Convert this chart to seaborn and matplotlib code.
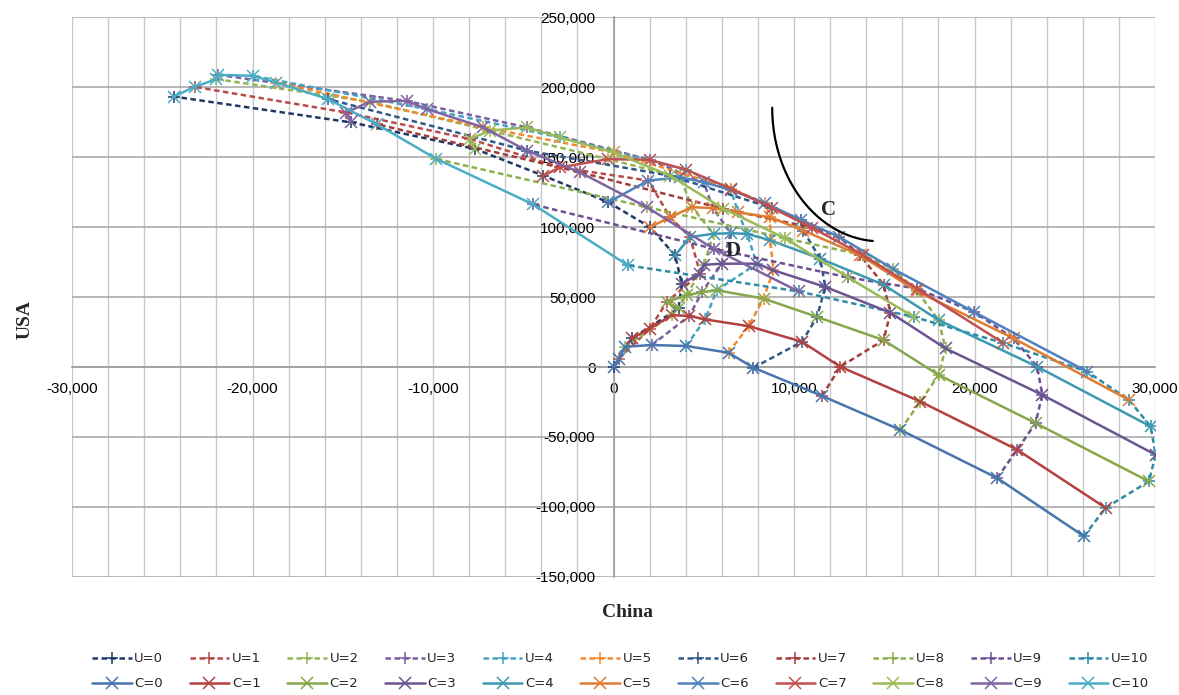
import matplotlib
matplotlib.use("Agg")
import matplotlib.pyplot as plt
import seaborn as sns
import pandas as pd
import numpy as np
from matplotlib.ticker import FuncFormatter, MultipleLocator

# grid of outcomes: one row per C level, columns are U = 0..10
levels = list(range(11))
china = [
    [0, 300, 640, 2120, 4020, 6370, 7750, 11550, 15890, 21250, 26060],
    [1010, 2020, 3230, 4200, 5070, 7480, 10440, 12560, 17000, 22360, 27260],
    [3600, 2950, 4060, 4900, 5720, 8310, 11270, 14960, 18010, 23380, 29660],
    [3780, 4800, 5000, 6000, 7940, 8860, 11730, 15340, 18390, 23750, 30030],
    [3410, 4240, 5540, 6500, 7390, 8680, 11450, 14960, 18010, 23470, 29760],
    [2020, 3130, 4340, 5500, 6900, 8680, 10500, 13670, 16820, 22170, 28550],
    [-290, 1930, 3690, 5000, 6500, 8400, 10400, 12500, 15500, 19960, 26240],
    [-3890, -2970, -300, 2000, 4000, 6500, 8800, 11000, 13800, 16820, 21600],
    [-7680, -7960, -6850, -4810, -2970, 0, 3130, 6090, 9500, 13000, 16630],
    [-14520, -14800, -13500, -11470, -10360, -7220, -4810, -1860, 1840, 5540, 10250],
    [-24370, -23210, -22000, -21920, -19980, -18680, -15820, -13130, -9810, -4450, 800],
]
usa = [
    [0, 6000, 14500, 15700, 15000, 10200, -500, -20650, -44900, -79300, -120900],
    [20400, 27500, 37000, 36500, 34000, 29200, 18000, 200, -24700, -59100, -100600],
    [41800, 46500, 51300, 53500, 54800, 48900, 35800, 19200, -5700, -40100, -81700],
    [59600, 66700, 73000, 73800, 73800, 69100, 57200, 38800, 13300, -19900, -62700],
    [79800, 92800, 95200, 95500, 95200, 90500, 77400, 58800, 33500, 200, -42500],
    [99900, 107000, 114200, 113500, 110500, 107000, 97500, 79800, 54000, 20400, -23500],
    [117700, 133200, 135500, 132000, 126500, 117000, 105000, 93000, 70000, 39400, -3300],
    [136700, 142600, 148500, 148000, 141000, 127500, 113500, 99500, 80000, 56000, 17100],
    [155800, 162900, 168800, 171200, 164000, 153300, 136700, 113000, 92000, 64000, 35800],
    [174700, 181800, 189500, 190100, 184300, 171200, 154600, 139100, 114200, 84500, 54000],
    [193200, 200100, 205600, 208700, 208000, 203200, 191400, 173500, 148600, 116100, 72600],
]

u_colors = ['#1F3864', '#B84B48', '#93B553', '#7A5E9E', '#44A3BF', '#F3892C',
            '#2F5888', '#A33D3B', '#8DB04E', '#6C5091', '#2F8CA6']
c_colors = ['#4775AD', '#B2413F', '#86A84A', '#6C5493', '#3E98B2', '#E07D31',
            '#4F81BD', '#C0504D', '#9BBB59', '#8064A2', '#4BACC6']

rows = []
for c in levels:
    for u in levels:
        rows.append({"C": c, "U": u, "China": china[c][u], "USA": usa[c][u]})
df = pd.DataFrame(rows)

sns.set_theme(style="white")
plt.rcParams['font.family'] = ['Liberation Sans', 'DejaVu Sans']
serif = ['Liberation Serif', 'DejaVu Serif']

fig = plt.figure(figsize=(11.79, 6.95), dpi=100)
ax = fig.add_axes([0.0611, 0.1698, 0.9186, 0.8057])

# U lines: dashed, one per U level across C
for u in levels:
    d = df[df["U"] == u].sort_values("C")
    sns.lineplot(data=d, x="China", y="USA", sort=False, estimator=None, ax=ax,
                 color=u_colors[u], linestyle=(0, (2.2, 1.4)), lw=1.8,
                 marker='+', markersize=9, mew=1.1, mec=u_colors[u],
                 label=f"U={u}", zorder=3)

# C lines: solid, one per C level across U
for c in levels:
    d = df[df["C"] == c].sort_values("U")
    sns.lineplot(data=d, x="China", y="USA", sort=False, estimator=None, ax=ax,
                 color=c_colors[c], lw=1.8,
                 marker='x', markersize=8, mew=1.1, mec=c_colors[c],
                 label=f"C={c}", zorder=3)

ax.set_xlim(-30000, 30000)
ax.set_ylim(-150000, 250000)
ax.xaxis.set_major_locator(MultipleLocator(10000))
ax.xaxis.set_minor_locator(MultipleLocator(2000))
ax.yaxis.set_major_locator(MultipleLocator(50000))
fmt = FuncFormatter(lambda v, _: f"{v:,.0f}")
ax.xaxis.set_major_formatter(fmt)
ax.yaxis.set_major_formatter(fmt)

ax.set_axisbelow(True)
ax.grid(which='both', axis='x', color='#c8c8c8', lw=1)
ax.grid(which='major', axis='y', color='#ababab', lw=1.2)

for s in ['top', 'right']:
    ax.spines[s].set_visible(False)
ax.spines['left'].set_position(('data', 0))
ax.spines['bottom'].set_position(('data', 0))
ax.spines['left'].set_color('#a0a0a0')
ax.spines['bottom'].set_color('#a0a0a0')
ax.tick_params(axis='x', which='both', length=0, pad=11, labelsize=11, colors='black')
ax.tick_params(axis='y', which='both', length=0, pad=13, labelsize=11, colors='black')
ax.set_xlabel("")
ax.set_ylabel("")

# annotation: quarter-ellipse marking region C, and label D
arc_cx, arc_cy, arc_a, arc_b = 14780, 185200, 5990, 95400
t = np.radians(np.linspace(180, 266, 60))
ax.plot(arc_cx + arc_a * np.cos(t), arc_cy + arc_b * np.sin(t),
        color='black', lw=1.6, zorder=4)
ax.text(11890, 111800, "C", fontsize=15, fontweight='bold', family=serif,
        ha='center', va='center', zorder=5)
ax.text(6610, 82600, "D", fontsize=15, fontweight='bold', family=serif,
        ha='center', va='center', zorder=5)

fig.text(0.021, 0.54, "USA", rotation=90, fontsize=14, fontweight='bold',
         family=serif, ha='center', va='center')
fig.text(0.532, 0.119, "China", fontsize=14, fontweight='bold',
         family=serif, ha='center', va='center')

handles, labels = ax.get_legend_handles_labels()
ax.get_legend().remove()
order = []
for k in levels:
    order += [k, 11 + k]
fig.legend([handles[i] for i in order], [labels[i] for i in order],
           ncol=11, loc='center', bbox_to_anchor=(0.526, 0.034), frameon=False,
           handlelength=3.0, handletextpad=0.2, columnspacing=2.0,
           labelspacing=0.9, prop={'family': ['Liberation Sans Narrow', 'DejaVu Sans'], 'size': 9.5})

fig.savefig("out.png", dpi=100)
